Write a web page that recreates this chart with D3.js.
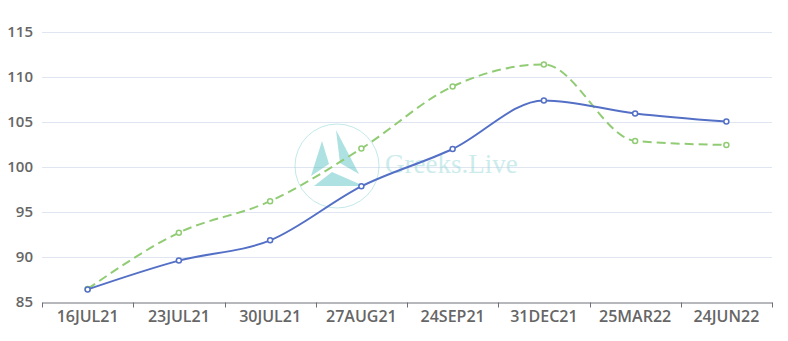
<!DOCTYPE html>
<html>
<head>
<meta charset="utf-8">
<script src="https://cdn.jsdelivr.net/npm/d3@7"></script>
<style>
  body { margin: 0; background: #fff; }
  svg { display: block; }
</style>
</head>
<body>
<div id="chart"></div>
<script>
var categories = ["16JUL21", "23JUL21", "30JUL21", "27AUG21", "24SEP21", "31DEC21", "25MAR22", "24JUN22"];
var blue_vals  = [86.4, 89.6, 91.85, 97.85, 102.0, 107.4, 105.95, 105.05];
var green_vals = [86.45, 92.7, 96.2, 102.05, 108.95, 111.4, 102.9, 102.45];
var y_ticks = [85, 90, 95, 100, 105, 110, 115];

var width = 788, height = 341;
var margin = {top: 32, right: 16, bottom: 39, left: 42};

var svg = d3.select("#chart").append("svg")
  .attr("width", width)
  .attr("height", height);

var x = d3.scaleBand()
  .domain(categories)
  .range([margin.left, width - margin.right]);

var y = d3.scaleLinear()
  .domain([85, 115])
  .range([height - margin.bottom, margin.top]);

// grid lines
svg.append("g").selectAll("line")
  .data(y_ticks.slice(1))
  .enter().append("line")
  .attr("x1", margin.left)
  .attr("x2", width - margin.right)
  .attr("y1", function(d) { return Math.round(y(d)) + 0.5; })
  .attr("y2", function(d) { return Math.round(y(d)) + 0.5; })
  .attr("stroke", "#E0E6F1")
  .attr("stroke-width", 1);

// y labels
svg.append("g").selectAll("text")
  .data(y_ticks)
  .enter().append("text")
  .attr("x", margin.left - 9)
  .attr("y", function(d) { return y(d); })
  .attr("dy", "0.35em")
  .attr("text-anchor", "end")
  .attr("font-family", "'Open Sans', sans-serif")
  .attr("font-weight", "600")
  .attr("font-size", 15)
  .attr("fill", "#666")
  .text(function(d) { return d; });

// watermark
var wm = svg.append("g").attr("opacity", 0.45);
var cx = 337, cy = 166;
wm.append("circle")
  .attr("cx", cx).attr("cy", cy).attr("r", 42)
  .attr("fill", "none").attr("stroke", "#7CCFCF").attr("stroke-width", 1);
wm.append("path")
  .attr("d", "M" + (cx - 15) + "," + (cy - 25) + " L" + (cx - 26) + "," + (cy + 10) + " L" + (cx - 8) + "," + (cy - 2) + " Z")
  .attr("fill", "#4DBDBD");
wm.append("path")
  .attr("d", "M" + (cx - 1) + "," + (cy - 36) + " L" + (cx + 3) + "," + (cy - 3) + " L" + (cx + 22) + "," + (cy + 8) + " Z")
  .attr("fill", "#4DBDBD");
wm.append("path")
  .attr("d", "M" + (cx - 23) + "," + (cy + 20) + " L" + (cx - 5) + "," + (cy + 6) + " L" + (cx + 27) + "," + (cy + 20) + " Z")
  .attr("fill", "#4DBDBD");
wm.append("text")
  .attr("x", 385).attr("y", 173)
  .attr("font-family", "'Liberation Serif', serif")
  .attr("font-size", 27)
  .attr("fill", "#8FD6D6")
  .text("Greeks.Live");

// x axis
var xAxis = d3.axisBottom(x).tickSize(0).tickPadding(8);
var gx = svg.append("g")
  .attr("transform", "translate(0," + (Math.round(y(85)) + 0.5) + ")")
  .call(xAxis);
gx.select(".domain").attr("stroke", "#6E7079");
gx.selectAll("text")
  .attr("font-family", "'Open Sans', sans-serif")
  .attr("font-weight", "600")
  .attr("font-size", 16)
  .attr("fill", "#666");

var bounds = categories.map(function(c) { return x(c); }).concat([x.range()[1]]);
gx.selectAll(".bound")
  .data(bounds)
  .enter().append("line")
  .attr("class", "bound")
  .attr("x1", function(d) { return Math.round(d) + 0.5; })
  .attr("x2", function(d) { return Math.round(d) + 0.5; })
  .attr("y1", 0).attr("y2", 5)
  .attr("stroke", "#6E7079");

function draw_series(vals, color, dash) {
  var line = d3.line()
    .x(function(d, i) { return x(categories[i]) + x.bandwidth() / 2; })
    .y(function(d) { return y(d); })
    .curve(d3.curveMonotoneX);

  svg.append("path")
    .datum(vals)
    .attr("d", line)
    .attr("fill", "none")
    .attr("stroke", color)
    .attr("stroke-width", 2)
    .attr("stroke-dasharray", dash);

  svg.append("g").selectAll("circle")
    .data(vals)
    .enter().append("circle")
    .attr("cx", function(d, i) { return x(categories[i]) + x.bandwidth() / 2; })
    .attr("cy", function(d) { return y(d); })
    .attr("r", 2.5)
    .attr("fill", "#fff")
    .attr("stroke", color)
    .attr("stroke-width", 1.5);
}

draw_series(green_vals, "#91CC75", "9,5");
draw_series(blue_vals, "#5470C6", null);
</script>
</body>
</html>
